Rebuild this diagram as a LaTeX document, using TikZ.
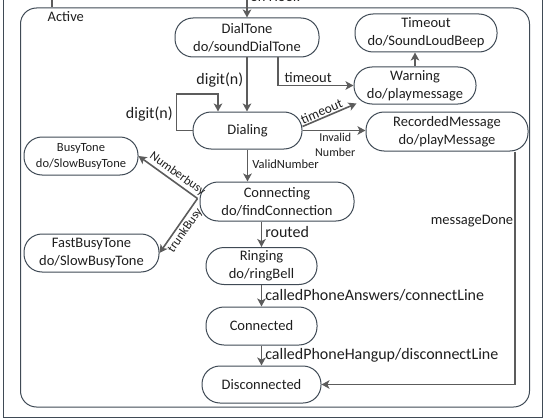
\documentclass[tikz,border=0pt]{standalone}
\usepackage{fontspec}
\setmainfont{Carlito}
\usepackage{tikz}
\usetikzlibrary{arrows.meta, positioning}
\definecolor{edgegray}{HTML}{5C5C5C}
\definecolor{boxline}{HTML}{3F4A55}
\definecolor{inktext}{HTML}{1E1E1E}
\tikzstyle{arrow}    = [line width=1.6pt, draw=edgegray, -{Stealth[length=8pt,width=8.5pt,inset=2pt]}]
\tikzstyle{statebox} = [rectangle, draw=boxline, line width=1pt, rounded corners=18pt, text centered, inner sep=0pt, minimum height=38pt, text=inktext, font=\fontsize{14.5}{18}\selectfont]
\tikzstyle{lbl}      = [text=inktext, inner sep=2.5pt, font=\fontsize{14.5}{17}\selectfont]
\tikzstyle{biglbl}   = [text=inktext, inner sep=3pt, font=\fontsize{16}{18}\selectfont]
\tikzstyle{smalllbl} = [text=inktext, inner sep=1.5pt, font=\fontsize{12.5}{15}\selectfont]
\tikzset{every node/.style={align=center}}

\begin{document}
\begin{tikzpicture}[x=1pt, y=-1pt]
    \useasboundingbox (0,0) rectangle (546,420);
    % outer frame and the Active super state
    \node (frame)  at (272.5,200) [draw=boxline, line width=1pt, minimum width=539pt, minimum height=434pt, inner sep=0pt] {};
    \node (active) at (275,207.5) [draw=boxline, line width=1pt, rounded corners=16pt, minimum width=509pt, minimum height=399pt, inner sep=0pt] {};
    \node (activetitle) at (45,17) [lbl, anchor=west] {Active};
    % Column 1: DialTone -> Dialing -> Connecting -> Ringing -> Connected -> Disconnected
    \node (dialtone)     at (247,37.5)  [statebox, minimum width=144pt, minimum height=39pt] {DialTone\\do/soundDialTone};
    \node (dialing)      at (247.5,130.5)[statebox, minimum width=109pt, minimum height=37pt] {Dialing};
    \node (connecting)   at (277,201.5) [statebox, minimum width=154pt, minimum height=39pt] {Connecting\\do/findConnection};
    \node (ringing)      at (261.5,266) [statebox, minimum width=111pt, minimum height=37pt] {Ringing\\do/ringBell};
    \node (connected)    at (261.5,326) [statebox, minimum width=111pt, minimum height=38pt] {Connected};
    \node (disconnected) at (261.5,384.5)[statebox, minimum width=119pt, minimum height=37pt] {Disconnected};
    % Right side: Timeout, Warning, RecordedMessage
    \node (timeout)  at (426,33)    [statebox, minimum width=142pt, minimum height=38pt] {Timeout\\do/SoundLoudBeep};
    \node (warning)  at (415,85.5)  [statebox, minimum width=122pt, minimum height=37pt] {Warning\\do/playmessage};
    \node (recorded) at (447,131.5) [statebox, minimum width=162pt, minimum height=39pt] {RecordedMessage\\do/playMessage};
    % Left side: busy tones
    \node (busytone) at (81,156)    [statebox, minimum width=114pt, minimum height=38pt, font=\fontsize{12.5}{16}\selectfont] {BusyTone\\do/SlowBusyTone};
    \node (fastbusy) at (91.5,253)  [statebox, minimum width=135pt, minimum height=38pt] {FastBusyTone\\do/SlowBusyTone};

    % incoming lines from above
    \coordinate (enter)  at (52,-5);
    \coordinate (hookin) at (247,-5);
    \draw [edgegray, line width=1.6pt] (enter) -- (enter |- active.north);
    \draw [arrow] (hookin) -- node[pos=0.05, right, lbl]{on Hook} (hookin |- dialtone.north);

    % transitions
    \draw [arrow] (dialtone.south) -- node[pos=0.42, left, biglbl]{digit(n)} (dialtone.south |- dialing.north);
    \draw [arrow] ([xshift=31pt]dialtone.south) |- node[pos=0.7, above, lbl]{timeout} (warning.west);
    \coordinate (loopin) at (218,94);
    \draw [arrow] (dialing.west) -- ++(-16,0) |- node[pos=0.22, left, biglbl]{digit(n)} (loopin) -- (loopin |- dialing.north);
    \draw [arrow] ([yshift=4pt]dialing.east) -- node[pos=0.4, sloped, above, smalllbl, font=\fontsize{13.5}{15}\selectfont, inner sep=1pt]{timeout} ([xshift=3pt,yshift=1pt]warning.south west);
    \draw [arrow] (dialing.east) -- node[pos=0.52, below, smalllbl, font=\fontsize{12}{15}\selectfont]{Invalid\\Number} (dialing.east -| recorded.west);
    \draw [arrow] (warning.north) -- (warning.north |- timeout.south);
    \draw [arrow] (dialing.south) -- node[pos=0.45, right, smalllbl, inner sep=4pt]{ValidNumber} (dialing.south |- connecting.north);
    \coordinate (fork) at ([xshift=-2pt,yshift=3pt]connecting.west);
    \draw [arrow] (fork) -- node[pos=0.42, sloped, above, smalllbl, inner sep=2pt]{Numberbusy} (busytone.east);
    \draw [arrow] (fork) -- node[pos=0.5, sloped, below, smalllbl, inner sep=2pt]{trunkBusy} (fastbusy.east);
    \draw [arrow] (connecting.south -| ringing) -- node[pos=0.4, right, biglbl]{routed} (ringing.north);
    \draw [arrow] (ringing.south) -- node[right, biglbl]{calledPhoneAnswers/connectLine} (connected.north);
    \draw [arrow] (connected.south) -- node[right, biglbl]{calledPhoneHangup/disconnectLine} (disconnected.north);
    \coordinate (mdone) at ([xshift=68pt]recorded.south);
    \draw [arrow] (mdone) |- node[pos=0.15, left, lbl, inner sep=1pt]{messageDone} (disconnected.east);
\end{tikzpicture}
\end{document}
